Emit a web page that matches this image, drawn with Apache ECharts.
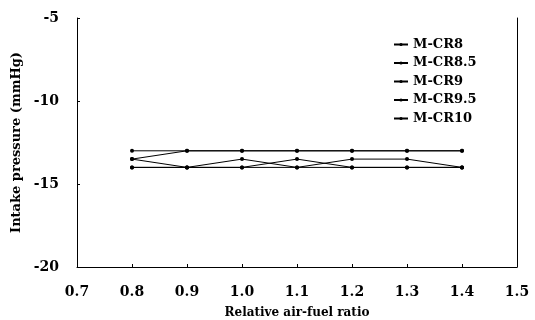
<!DOCTYPE html>
<html>
<head>
<meta charset="utf-8">
<script src="https://cdn.jsdelivr.net/npm/echarts@6/dist/echarts.min.js"></script>
<style>
  html, body { margin: 0; padding: 0; background: #fff; }
  #chart { width: 535px; height: 320px; }
</style>
</head>
<body>
<div id="chart"></div>
<script>
const ratios = [0.8, 0.9, 1.0, 1.1, 1.2, 1.3, 1.4]
const seriesNames = ['M-CR8', 'M-CR8.5', 'M-CR9', 'M-CR9.5', 'M-CR10']
const cr8 = [-13, -13, -13, -13, -13, -13, -13]
const cr85 = [-13.5, -13, -13, -13, -13, -13, -13]
const cr9 = [-13.5, -14, -13.5, -14, -13.5, -13.5, -14]
const cr95 = [-14, -14, -14, -13.5, -14, -14, -14]
const cr10 = [-14, -14, -14, -14, -14, -14, -14]
const seriesValues = [cr8, cr85, cr9, cr95, cr10]

const font = 'DejaVu Serif'

const chart = echarts.init(document.getElementById('chart'))
const option = {
  animation: false,
  backgroundColor: '#fff',
  grid: { left: 77, right: 18, top: 18, bottom: 53, outerBoundsMode: 'none' },
  legend: {
    orient: 'vertical',
    left: 388,
    top: 33,
    itemGap: 5.5,
    itemWidth: 14,
    itemHeight: 4,
    data: seriesNames,
    textStyle: { fontFamily: font, fontWeight: 'bold', fontSize: 13, color: '#000' }
  },
  xAxis: {
    type: 'value',
    min: 0.7,
    max: 1.5,
    interval: 0.1,
    name: 'Relative air-fuel ratio',
    nameLocation: 'middle',
    nameGap: 40,
    nameTextStyle: { fontFamily: font, fontWeight: 'bold', fontSize: 12, color: '#000' },
    axisLine: { lineStyle: { color: '#000', width: 1 } },
    axisTick: { inside: true, length: 3, lineStyle: { color: '#000' } },
    splitLine: { show: false },
    axisLabel: {
      fontFamily: font, fontWeight: 'bold', fontSize: 14, color: '#000', margin: 18,
      formatter: v => v.toFixed(1)
    }
  },
  yAxis: [{
    type: 'value',
    min: -20,
    max: -5,
    interval: 5,
    name: 'Intake pressure (mmHg)',
    nameLocation: 'middle',
    nameGap: 50,
    nameTextStyle: { fontFamily: font, fontWeight: 'bold', fontSize: 13, color: '#000' },
    axisLine: { show: true, lineStyle: { color: '#000', width: 1 } },
    axisTick: { show: true, inside: true, length: 3, lineStyle: { color: '#000' } },
    splitLine: { show: false },
    axisLabel: { fontFamily: font, fontWeight: 'bold', fontSize: 14, color: '#000', margin: 18 }
  }, {
    type: 'value',
    min: -20,
    max: -5,
    interval: 5,
    position: 'right',
    axisLine: { show: true, lineStyle: { color: '#000', width: 1 } },
    axisTick: { show: false },
    axisLabel: { show: false },
    splitLine: { show: false }
  }],
  series: seriesNames.map((name, i) => ({
    name: name,
    type: 'line',
    data: ratios.map((r, j) => [r, seriesValues[i][j]]),
    symbol: 'circle',
    symbolSize: 4,
    lineStyle: { color: '#000', width: 1 },
    itemStyle: { color: '#000' }
  }))
}
chart.setOption(option)
</script>
</body>
</html>
